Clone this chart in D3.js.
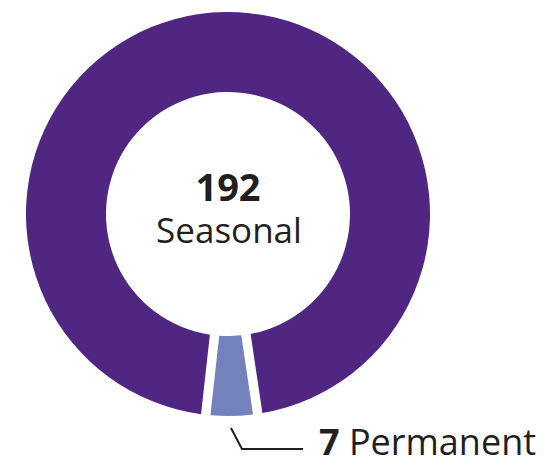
<!DOCTYPE html>
<html>
<head>
<meta charset="utf-8">
<script src="https://cdn.jsdelivr.net/npm/d3@7"></script>
<style>
  body { margin: 0; background: #fff; }
  text { font-family: "Open Sans", "Noto Sans", sans-serif; fill: #231f20; }
</style>
</head>
<body>
<div id="chart"></div>
<script>
var categories = ["Seasonal", "Permanent"]
var values = [192, 7]
var colors = ["#4f2682", "#7381bd"]

var width = 544, height = 461
var cx = 228, cy = 214
var outerR = 202, innerR = 122

var svg = d3.select("#chart")
    .append("svg")
    .attr("width", width)
    .attr("height", height)

var data = categories.map(function (c, i) {
    return { name: c, value: values[i], color: colors[i] }
})

// small slice sits centred at the bottom of the ring
var total = d3.sum(values)
var smallAngle = values[1] / total * 2 * Math.PI
var start = Math.PI + smallAngle / 2

var pie = d3.pie()
    .sort(null)
    .value(d => d.value)
    .startAngle(start)
    .endAngle(start + 2 * Math.PI)
    .padAngle(0.04)

var arc = d3.arc()
    .innerRadius(innerR)
    .outerRadius(outerR)

var g = svg.append("g")
    .attr("transform", `translate(${cx},${cy})`)

g.selectAll("path")
    .data(pie(data))
    .join("path")
    .attr("d", arc)
    .attr("fill", d => d.data.color)

// centre label
g.append("text")
    .attr("text-anchor", "middle")
    .attr("y", -13)
    .style("font-size", "38px")
    .style("font-weight", "bold")
    .text(values[0])

g.append("text")
    .attr("text-anchor", "middle")
    .attr("x", 1)
    .attr("y", 29)
    .style("font-size", "35px")
    .text(categories[0])

// leader line for the small slice
var slice = pie(data)[1]
var mid = (slice.startAngle + slice.endAngle) / 2
var lx = cx + Math.sin(mid) * (outerR + 12) - 1
var ly = cy - Math.cos(mid) * (outerR + 12)

svg.append("path")
    .attr("d", `M${lx},${ly} L${lx + 11},${ly + 21} L303,${ly + 21}`)
    .attr("fill", "none")
    .attr("stroke", "#231f20")
    .attr("stroke-width", 2)

var lab = svg.append("text")
    .attr("x", 319)
    .attr("y", 455)
    .style("font-size", "36px")
lab.append("tspan").style("font-weight", "bold").text(values[1])
lab.append("tspan").text(" " + categories[1])
</script>
</body>
</html>
